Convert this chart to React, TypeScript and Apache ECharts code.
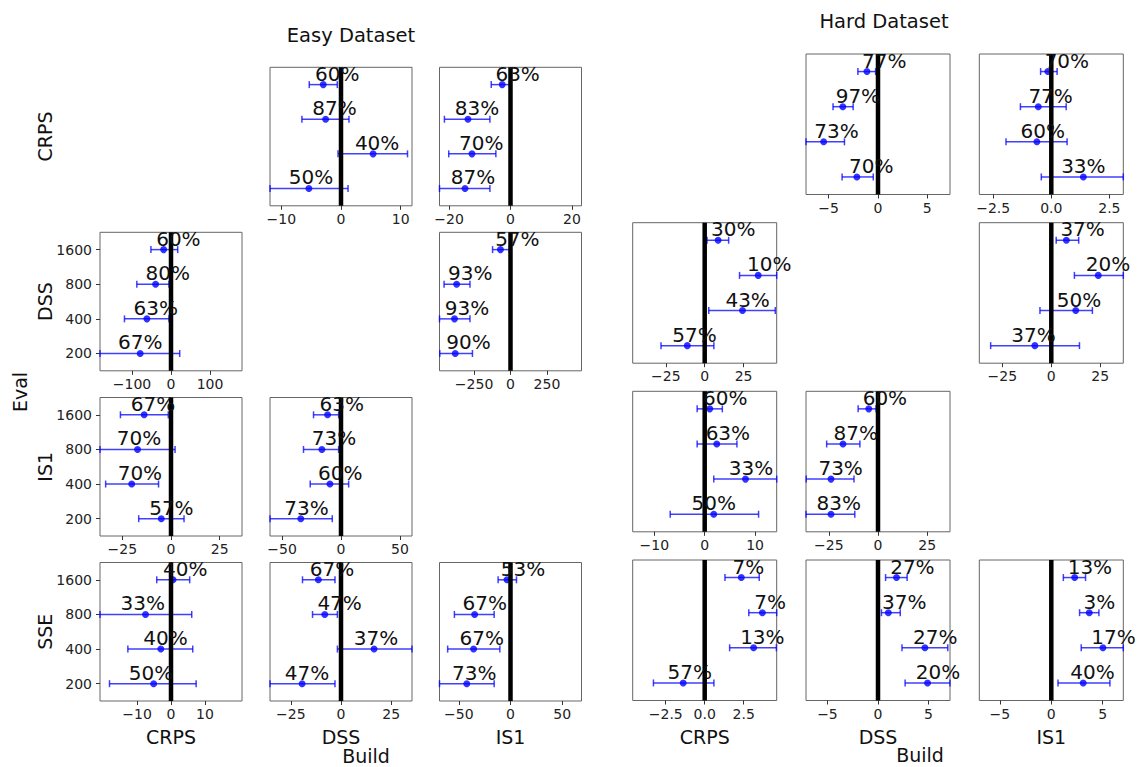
import React, { useEffect, useRef } from "react";
import * as echarts from "echarts";

const FONT = "DejaVu Sans";
const sizes = ["200", "400", "800", "1600"];

// each row: [mean, lower, upper, labelX, percent] for sizes 200, 400, 800, 1600
const easyCrpsByDss = [[-5.38, -11.9, 1.18, -5.04, 50], [5.38, -0.5, 11.15, 6.05, 40], [-2.58, -6.55, 1.34, -1.09, 87], [-2.97, -5.32, -0.62, -0.62, 60]];
const easyCrpsByIs1 = [[-14.8, -23.1, -6.7, -12.2, 87], [-12.54, -20.1, -4.76, -9.51, 70], [-13.84, -21.5, -6.7, -10.9, 83], [-2.7, -6.27, -0.3, 2.32, 63]];
const easyDssByCrps = [[-79, -182, 22.3, -79, 67], [-61.8, -119.3, -5.2, -39, 63], [-39.5, -87.6, -5.2, -8.2, 80], [-18.9, -51.5, 17.2, 18.9, 60]];
const easyDssByIs1 = [[-379, -485, -261, -288, 90], [-384, -487, -278, -298, 93], [-369.5, -455.7, -278, -276, 93], [-69, -123, -7, 47, 57]];
const easyIs1ByCrps = [[-5, -16.6, 6.7, 0.2, 57], [-20.2, -33.6, -6.4, -16, 70], [-17.2, -36.5, 2.1, -16.5, 70], [-13.8, -26, -1.4, -9.3, 67]];
const easyIs1ByDss = [[-34.1, -60.2, -7.4, -29.3, 73], [-9.4, -26.1, 6.5, -0.6, 60], [-16.2, -31.8, -2, -6, 73], [-11.4, -23.3, -2, 0.6, 63]];
const easySseByCrps = [[-5.1, -18.1, 7.4, -5.9, 50], [-3, -12.7, 6.4, -1.6, 40], [-7.5, -20.9, 6.1, -8.3, 33], [0.6, -4.2, 5.5, 4.2, 40]];
const easySseByDss = [[-19.4, -35.4, -3, -17, 47], [16.5, -1.8, 35.4, 17.4, 37], [-8.1, -14.2, -1.8, -0.7, 47], [-11.3, -19.2, -3, -4.5, 67]];
const easySseByIs1 = [[-42.3, -68.7, -15.8, -35, 73], [-35.7, -60.8, -10.3, -27.8, 67], [-34.7, -54.3, -15.8, -25, 67], [-3.4, -12, 5.8, 12, 53]];

const hardCrpsByDss = [[-2.14, -3.64, -0.48, -0.68, 70], [-5.51, -7.3, -3.4, -4.2, 73], [-3.57, -4.56, -2.52, -2.04, 97], [-1.12, -2.04, -0.24, 0.63, 77]];
const hardCrpsByIs1 = [[1.38, -0.43, 3.1, 1.38, 33], [-0.62, -1.95, 0.68, -0.37, 60], [-0.56, -1.33, 0.64, -0.03, 77], [-0.15, -0.46, 0.25, 0.67, 70]];
const hardDssByCrps = [[-11.2, -28.1, 5.9, -6.6, 57], [24.3, 2.6, 45.4, 27.6, 43], [34.4, 22.4, 46.3, 41.5, 10], [8.6, 1.5, 15.4, 18.4, 30]];
const hardDssByIs1 = [[-8.4, -31, 14.4, -9.1, 37], [12.5, -5.8, 21, 14.2, 50], [24, 11.8, 36.8, 29, 20], [7.7, 2.5, 14, 16, 37]];
const hardIs1ByCrps = [[1.8, -6.85, 10.7, 1.8, 50], [8.1, 1.8, 14.3, 9.2, 33], [2.4, -1.5, 6.4, 4.6, 63], [1.0, -1.5, 3.5, 4.1, 60]];
const hardIs1ByDss = [[-23.9, -36.6, -11.8, -20, 83], [-23.9, -36.5, -12.2, -19, 73], [-17.8, -26.1, -9.2, -11.3, 87], [-4.7, -10.1, -1, 3.5, 60]];
const hardSseByCrps = [[-1.38, -3.29, 0.59, -0.96, 57], [3.14, 1.6, 4.6, 3.7, 13], [3.7, 2.83, 4.62, 4.2, 7], [2.35, 1.3, 3.5, 2.8, 7]];
const hardSseByDss = [[4.9, 2.68, 7.12, 5.93, 20], [4.64, 2.37, 6.9, 5.66, 27], [1.02, 0.34, 2.2, 2.6, 37], [1.83, 0.75, 2.88, 3.4, 27]];
const hardSseByIs1 = [[3.1, 0.65, 5.7, 4.0, 40], [5.02, 2.91, 7.0, 6.04, 17], [3.69, 2.75, 4.63, 4.68, 3], [2.27, 1.17, 3.33, 3.75, 13]];

// x tick values per panel
const ticks10 = [-10, 0, 10];
const ticks20 = [-20, 0, 20];
const ticks25 = [-25, 0, 25];
const ticks50 = [-50, 0, 50];
const ticks100 = [-100, 0, 100];
const ticks250 = [-250, 0, 250];
const ticks5 = [-5, 0, 5];
const ticks2p5 = [-2.5, 0, 2.5];

const evalNames = ["CRPS", "DSS", "IS1", "SSE"];
const buildNames = ["CRPS", "DSS", "IS1"];

const LAYOUT = {
  easy: { cols: [100, 270, 439.5], rows: [67.3, 232.3, 397.5, 562.5], w: 142, h: 138.5 },
  hard: { cols: [632.7, 806, 979.3], rows: [54, 222.7, 391.3, 560], w: 144, h: 140.5 },
};

const panels = [
  { set: "easy", row: 0, col: 1, data: easyCrpsByDss, ticks: ticks10, dec: 0 },
  { set: "easy", row: 0, col: 2, data: easyCrpsByIs1, ticks: ticks20, dec: 0 },
  { set: "easy", row: 1, col: 0, data: easyDssByCrps, ticks: ticks100, dec: 0, ylab: true },
  { set: "easy", row: 1, col: 2, data: easyDssByIs1, ticks: ticks250, dec: 0 },
  { set: "easy", row: 2, col: 0, data: easyIs1ByCrps, ticks: ticks25, dec: 0, ylab: true },
  { set: "easy", row: 2, col: 1, data: easyIs1ByDss, ticks: ticks50, dec: 0 },
  { set: "easy", row: 3, col: 0, data: easySseByCrps, ticks: ticks10, dec: 0, ylab: true },
  { set: "easy", row: 3, col: 1, data: easySseByDss, ticks: ticks25, dec: 0 },
  { set: "easy", row: 3, col: 2, data: easySseByIs1, ticks: ticks50, dec: 0 },
  { set: "hard", row: 0, col: 1, data: hardCrpsByDss, ticks: ticks5, dec: 0 },
  { set: "hard", row: 0, col: 2, data: hardCrpsByIs1, ticks: ticks2p5, dec: 1 },
  { set: "hard", row: 1, col: 0, data: hardDssByCrps, ticks: ticks25, dec: 0 },
  { set: "hard", row: 1, col: 2, data: hardDssByIs1, ticks: ticks25, dec: 0 },
  { set: "hard", row: 2, col: 0, data: hardIs1ByCrps, ticks: ticks10, dec: 0 },
  { set: "hard", row: 2, col: 1, data: hardIs1ByDss, ticks: ticks25, dec: 0 },
  { set: "hard", row: 3, col: 0, data: hardSseByCrps, ticks: ticks2p5, dec: 1 },
  { set: "hard", row: 3, col: 1, data: hardSseByDss, ticks: ticks5, dec: 0 },
  { set: "hard", row: 3, col: 2, data: hardSseByIs1, ticks: ticks5, dec: 0 },
];

function fmtTick(v: number, dec: number) {
  const s = dec ? Math.abs(v).toFixed(dec) : String(Math.abs(v));
  return v < 0 ? "\u2212" + s : s;
}

function buildOption() {
  const grid: any[] = [];
  const xAxis: any[] = [];
  const yAxis: any[] = [];
  const series: any[] = [];
  const graphic: any[] = [];

  panels.forEach((p: any, i: number) => {
    const L = (LAYOUT as any)[p.set];
    grid.push({
      left: L.cols[p.col], top: L.rows[p.row], width: L.w, height: L.h,
      show: true, borderColor: "#666", borderWidth: 1, backgroundColor: "transparent",
    });
    const m = Math.max(...p.data.map((r: number[]) => Math.max(Math.abs(r[1]), Math.abs(r[2]))));
    xAxis.push({
      type: "value", gridIndex: i, min: -m, max: m,
      axisLine: { show: false, onZero: false },
      splitLine: { show: false },
      axisTick: { show: true, customValues: p.ticks, length: 4, lineStyle: { color: "#333" } },
      axisLabel: {
        customValues: p.ticks, margin: 6, fontSize: 14, fontFamily: FONT, color: "#222",
        formatter: (v: number) => fmtTick(v, p.dec),
      },
    });
    yAxis.push({
      type: "value", gridIndex: i, min: -0.5, max: 3.5,
      axisLine: { show: false, onZero: false },
      splitLine: { show: false },
      axisTick: { show: !!p.ylab, customValues: [0, 1, 2, 3], length: 4, lineStyle: { color: "#333" } },
      axisLabel: {
        show: !!p.ylab, customValues: [0, 1, 2, 3], margin: 8, fontSize: 14, fontFamily: FONT, color: "#222",
        formatter: (v: number) => sizes[Math.round(v)],
      },
    });
    series.push({
      type: "custom", xAxisIndex: i, yAxisIndex: i, z: 2, silent: true,
      data: p.data.map((r: number[], k: number) => [r[1], r[2], k]),
      encode: { x: [0, 1], y: 2 },
      renderItem: (params: any, api: any) => {
        const a = api.coord([api.value(0), api.value(2)]);
        const b = api.coord([api.value(1), api.value(2)]);
        const st = { stroke: "rgba(0,0,255,0.75)", lineWidth: 1.5 };
        return {
          type: "group",
          children: [
            { type: "line", shape: { x1: a[0], y1: a[1], x2: b[0], y2: b[1] }, style: st },
            { type: "line", shape: { x1: a[0], y1: a[1] - 3.5, x2: a[0], y2: a[1] + 3.5 }, style: st },
            { type: "line", shape: { x1: b[0], y1: b[1] - 3.5, x2: b[0], y2: b[1] + 3.5 }, style: st },
          ],
        };
      },
    });
    series.push({
      type: "scatter", xAxisIndex: i, yAxisIndex: i, z: 3, silent: true,
      symbol: "circle", symbolSize: 7, itemStyle: { color: "#0000ff" },
      data: p.data.map((r: number[], k: number) => [r[0], k]),
    });
    series.push({
      type: "custom", xAxisIndex: i, yAxisIndex: i, z: 4, silent: true,
      data: [[0, 0]],
      renderItem: (params: any, api: any) => {
        const cs = params.coordSys;
        const x = api.coord([0, 0])[0];
        return { type: "rect", shape: { x: x - 2.25, y: cs.y, width: 4.5, height: cs.height }, style: { fill: "#000" } };
      },
    });
    series.push({
      type: "custom", xAxisIndex: i, yAxisIndex: i, z: 5, silent: true,
      data: p.data.map((r: number[], k: number) => [r[3], k, r[4]]),
      renderItem: (params: any, api: any) => {
        const c = api.coord([api.value(0), api.value(1)]);
        return {
          type: "text", x: c[0], y: c[1] - 1,
          style: {
            text: api.value(2) + "%", fill: "#111", fontSize: 20, fontFamily: FONT,
            align: "center", verticalAlign: "bottom",
          },
        };
      },
    });
  });

  const txt = (text: string, x: number, y: number, size: number, rot = 0) => ({
    type: "text", x, y, rotation: rot, silent: true,
    style: { text, fill: "#111", fontSize: size, fontFamily: FONT, align: "center", verticalAlign: "middle" },
  });

  graphic.push(txt("Easy Dataset", 351, 35, 19.5));
  graphic.push(txt("Hard Dataset", 884, 21, 19.5));
  graphic.push(txt("Eval", 20, 392, 19, Math.PI / 2));
  evalNames.forEach((n, r) => {
    graphic.push(txt(n, 45, LAYOUT.easy.rows[r] + LAYOUT.easy.h / 2, 19, Math.PI / 2));
  });
  buildNames.forEach((n, c) => {
    graphic.push(txt(n, LAYOUT.easy.cols[c] + LAYOUT.easy.w / 2, 737, 19));
    graphic.push(txt(n, LAYOUT.hard.cols[c] + LAYOUT.hard.w / 2, 737, 19));
  });
  graphic.push(txt("Build", 366, 755.5, 19));
  graphic.push(txt("Build", 920, 754.5, 19));

  return { animation: false, backgroundColor: "#fff", grid, xAxis, yAxis, series, graphic };
}

export default function App() {
  const ref = useRef<HTMLDivElement>(null);
  useEffect(() => {
    if (!ref.current) return;
    const chart = echarts.init(ref.current, undefined, { renderer: "svg" });
    chart.setOption(buildOption() as any);
    return () => chart.dispose();
  }, []);
  return (
    <div
      ref={ref}
      style={{ position: "fixed", left: 0, top: 0, width: "1139px", height: "767px", background: "#fff" }}
    />
  );
}
